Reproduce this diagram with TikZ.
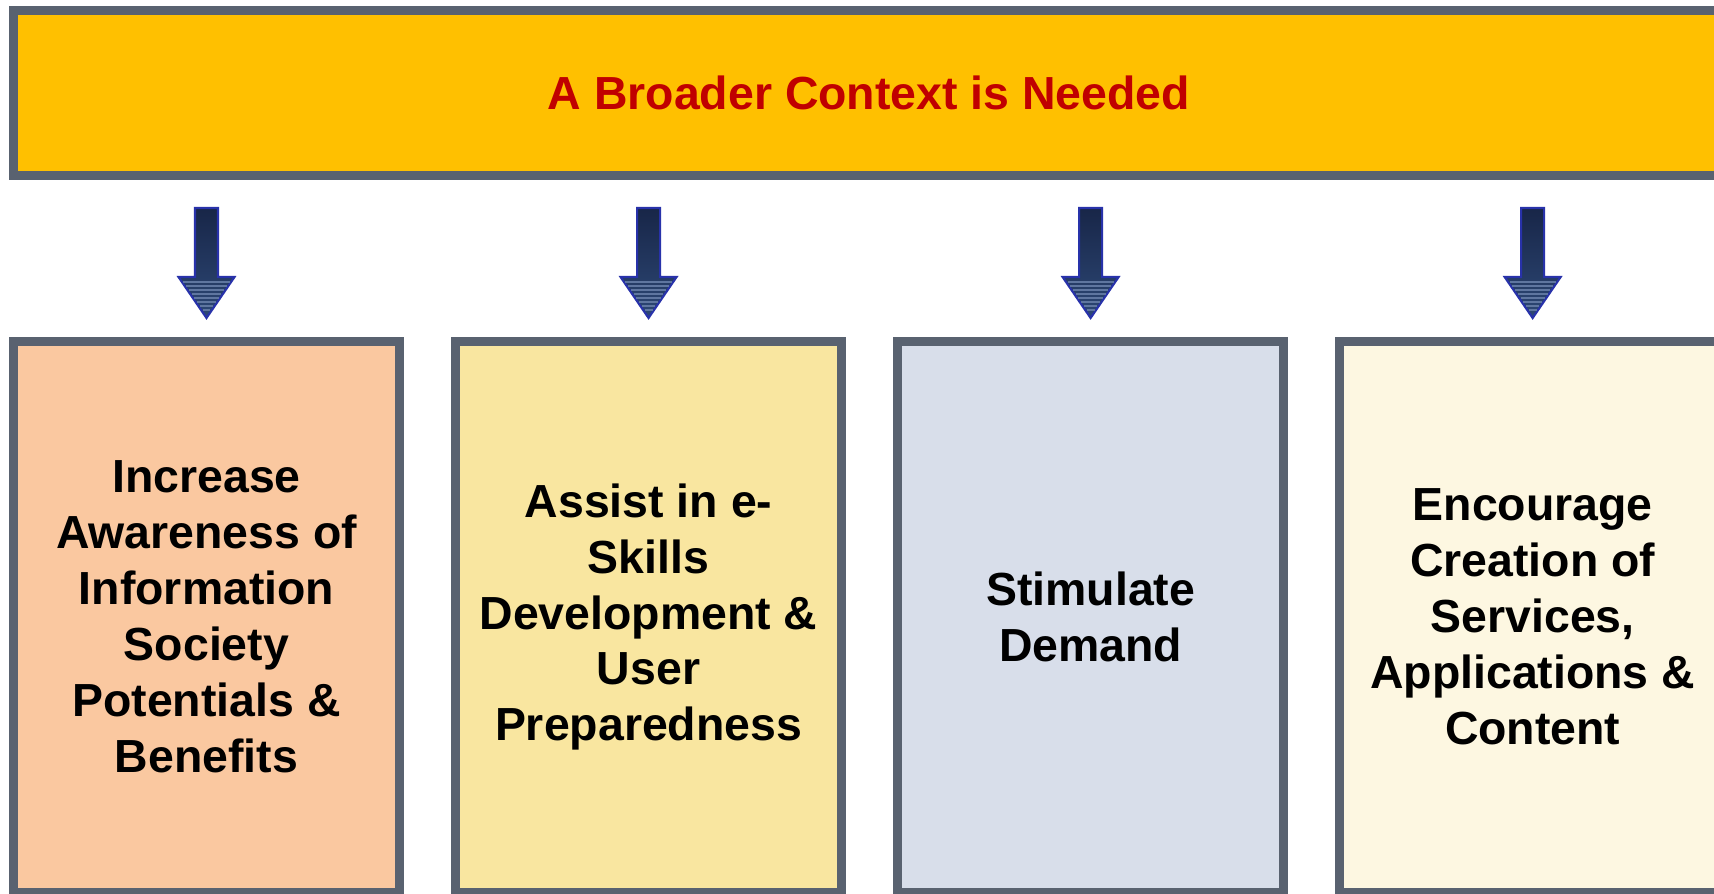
\documentclass[tikz,border=0pt]{standalone}
\usepackage{fontspec}
\setmainfont{Liberation Sans}
\usetikzlibrary{positioning}
\definecolor{ctxyellow}{RGB}{255,192,0}
\definecolor{ctxred}{RGB}{192,0,0}
\definecolor{frame}{RGB}{89,98,112}
\definecolor{peach}{RGB}{250,200,160}
\definecolor{sand}{RGB}{249,230,160}
\definecolor{mist}{RGB}{216,222,234}
\definecolor{cream}{RGB}{253,247,225}
\definecolor{navytop}{RGB}{24,38,72}
\definecolor{navybot}{RGB}{45,72,118}
\definecolor{stripe}{RGB}{95,118,160}
\definecolor{arrowline}{RGB}{40,50,170}

\begin{document}
\begin{tikzpicture}[x=0.01cm,y=-0.01cm,
	panel/.style={draw=frame,line width=2.56pt,minimum width=3.86cm,minimum height=5.51cm,
		align=center,font=\bfseries\fontsize{13.2}{15.9}\selectfont},
	downarrow/.pic={
		\shade[top color=navytop,bottom color=navybot,draw=arrowline,line width=0.6pt]
			(-11.5,0)--(11.5,0)--(11.5,69)--(28,69)--(0,110)--(-28,69)--(-11.5,69)--cycle;
		\foreach \s in {74,78,...,102}{
			\pgfmathsetmacro\w{28*(110-\s)/41-1.5}
			\draw[stripe,line width=0.3pt] (-\w,\s)--(\w,\s);}
	}]
	\clip (0,0) rectangle (1714,893);
	\fill[white] (0,0) rectangle (1714,893);
	\node[panel,fill=ctxyellow,minimum width=17.11cm,minimum height=1.65cm,text=ctxred] (ctx) at (869,93) {A Broader Context is Needed};
	\node[panel,fill=peach] (aware) at (206.5,617) {Increase\\Awareness of\\Information\\Society\\Potentials \&\\Benefits};
	\node[panel,fill=sand,right=0.468cm of aware] (skills) {Assist in e-\\Skills\\Development \&\\User\\Preparedness};
	\node[panel,fill=mist,right=0.468cm of skills] (demand) {Stimulate\\Demand};
	\node[panel,fill=cream,right=0.468cm of demand] (content) {Encourage\\Creation of\\Services,\\Applications \&\\Content};
	\coordinate (arrowrow) at (0,208);
	\pic at (aware.north |- arrowrow) {downarrow};
	\pic at (skills.north |- arrowrow) {downarrow};
	\pic at (demand.north |- arrowrow) {downarrow};
	\pic at (content.north |- arrowrow) {downarrow};
\end{tikzpicture}
\end{document}
